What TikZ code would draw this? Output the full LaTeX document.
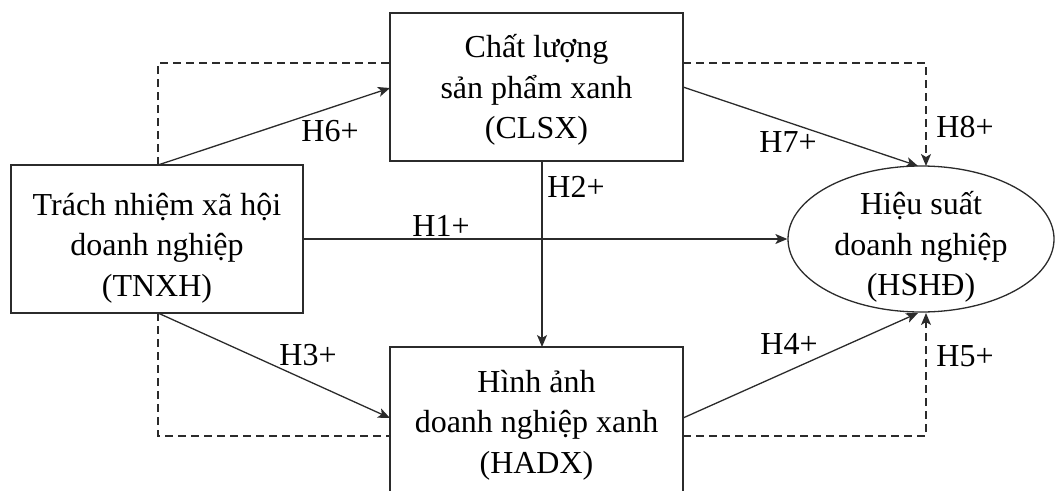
\documentclass[tikz,border=0pt]{standalone}
\usepackage{fontspec}
\setmainfont{Liberation Serif}
\usetikzlibrary{shapes.geometric,arrows.meta}
\definecolor{ln}{HTML}{2B2B2B}
\tikzset{
  box/.style={draw=ln, line width=1.3pt, rectangle, inner sep=0pt},
  ell/.style={draw=ln, line width=1.3pt, ellipse, inner sep=0pt},
  txt/.style={inner sep=0pt, align=center, font=\fontsize{32}{40.5}\selectfont},
  arr/.style={draw=ln, line width=1.3pt, -{Stealth[length=12pt,width=10pt,inset=3pt]}},
  dsh/.style={draw=ln, line width=1.3pt, dash pattern=on 8pt off 5pt},
  darr/.style={dsh, -{Stealth[length=12pt,width=10pt,inset=3pt]}},
  lbl/.style={inner sep=0pt, font=\fontsize{32}{40}\selectfont}
}
\begin{document}
\begin{tikzpicture}[x=1pt,y=-1pt]
\useasboundingbox (0,0) rectangle (1056,490);
\node[box, minimum width=292pt, minimum height=148pt] (tnxh) at (157,239) {};
\node[box, minimum width=293pt, minimum height=148pt] (clsx) at (536.5,87) {};
\node[box, minimum width=293pt, minimum height=150pt] (hadx) at (536.5,422) {};
\node[ell, minimum width=266pt, minimum height=146pt] (hshd) at (921,239) {};
\node[txt] (tnxhT) at (157,248) {Trách nhiệm xã hội\\doanh nghiệp\\(TNXH)};
\node[txt] (clsxT) at (536.5,90) {Chất lượng\\sản phẩm xanh\\(CLSX)};
\node[txt] (hadxT) at (536.5,425) {Hình ảnh\\doanh nghiệp xanh\\(HADX)};
\node[txt] (hshdT) at (921,247) {Hiệu suất\\doanh nghiệp\\(HSHĐ)};
% coordinates
\coordinate (tTop) at (158,165);
\coordinate (tBot) at (158,313);
\coordinate (cL) at (390,88);
\coordinate (cLd) at (390,63);
\coordinate (cR) at (683,87);
\coordinate (cRd) at (683,63);
\coordinate (cB) at (542,161);
\coordinate (hT) at (542,347);
\coordinate (hL) at (390,418);
\coordinate (hLd) at (390,436);
\coordinate (hR) at (683,418);
\coordinate (hRd) at (683,436);
\coordinate (eT1) at (918,166);
\coordinate (eT2) at (926,166);
\coordinate (eB1) at (918,313);
\coordinate (eB2) at (926,313);
% solid arrows
\draw[arr] (tTop) -- (cL);
\draw[arr] (cR) -- (eT1);
\draw[arr] (tnxh.east) -- (hshd.west);
\draw[arr] (cB) -- (hT);
\draw[arr] (tBot) -- (hL);
\draw[arr] (hR) -- (eB1);
% dashed
\draw[dsh] (tTop) |- (cLd);
\draw[darr] (cRd) -| (eT2);
\draw[dsh] (tBot) |- (hLd);
\draw[darr] (hRd) -| (eB2);
% labels
\node[lbl] (l6) at (330,131) {H6+};
\node[lbl] (l7) at (788,142) {H7+};
\node[lbl] (l8) at (965,127) {H8+};
\node[lbl] (l2) at (576,187) {H2+};
\node[lbl] (l1) at (441,226) {H1+};
\node[lbl] (l3) at (308,355) {H3+};
\node[lbl] (l4) at (789,344) {H4+};
\node[lbl] (l5) at (965,356) {H5+};
\end{tikzpicture}
\end{document}
